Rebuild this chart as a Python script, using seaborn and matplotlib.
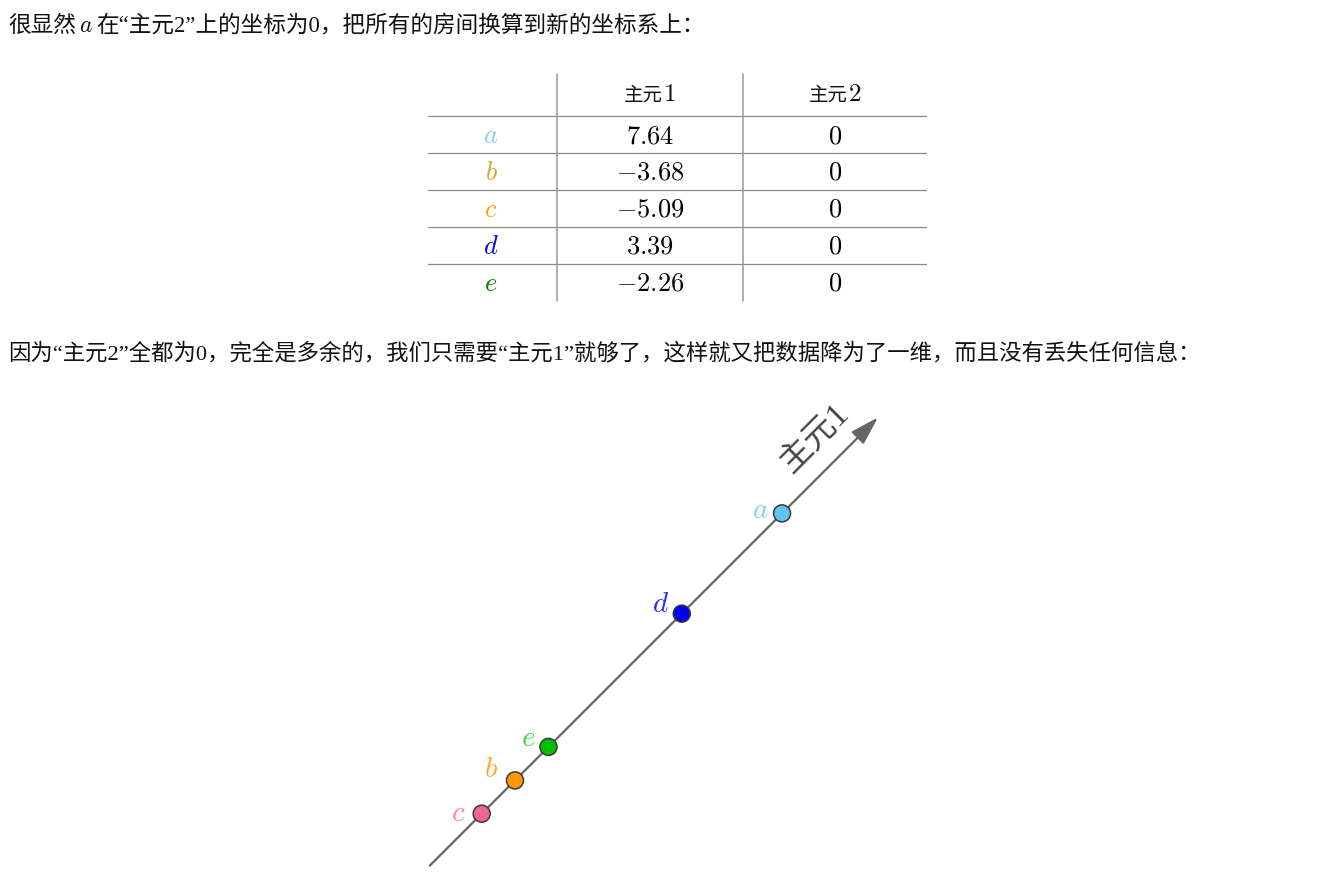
import numpy as np
import pandas as pd
import matplotlib
matplotlib.use("Agg")
import matplotlib.pyplot as plt
import seaborn as sns

# ---------------- data ----------------
labels = ["a", "b", "c", "d", "e"]
pc1 = [7.64, -3.68, -5.09, 3.39, -2.26]
pc2 = [0, 0, 0, 0, 0]
headers = ["主元1", "主元2"]
line1 = ["很显然", "$a$", "在“主元2”上的坐标为0，把所有的房间换算到新的坐标系上："]
line3 = "因为“主元2”全都为0，完全是多余的，我们只需要“主元1”就够了，这样就又把数据降为了一维，而且没有丢失任何信息："
axis_label = "主元1"

# ---------------- styles ----------------
table_label_colors = {"a": "#87CEEB", "b": "#DAA520", "c": "#FFA500", "d": "#0000FF", "e": "#008000"}
point_colors = {"a": "#5ec4f0", "b": "#ff9800", "c": "#f06595", "d": "#0000f0", "e": "#00bf00"}
diag_label_colors = {"a": "#7fd0f8", "b": "#ffa726", "c": "#ff80ab", "d": "#2929ff", "e": "#3fd43f"}
label_offsets = {"a": (-22, 3), "b": (-24, 11), "c": (-23, 1), "d": (-21, 10), "e": (-20, 9)}

sns.set_style("white")
plt.rcParams["font.family"] = ["Liberation Serif", "Noto Sans CJK SC"]
plt.rcParams["mathtext.fontset"] = "cm"

W, H = 1326, 879
fig = plt.figure(figsize=(W / 100, H / 100), dpi=100)
page = fig.add_axes([0, 0, 1, 1])
page.set_xlim(0, W)
page.set_ylim(H, 0)
page.axis("off")
renderer = fig.canvas.get_renderer()


def pieces(x, y, items, ha="left"):
    cur = x
    made = []
    for s, kw in items:
        t = page.text(cur, y, s, va="baseline", ha="left", **kw)
        cur += t.get_window_extent(renderer).width
        made.append(t)
    if ha == "center":
        shift = (cur - x) / 2
        for t in made:
            px, py = t.get_position()
            t.set_position((px - shift, py))
    return made


txt_kw = dict(fontsize=16.3, color="#111111")
# line 1
t1 = page.text(8, 32, line1[0], va="baseline", **txt_kw)
x = 8 + t1.get_window_extent(renderer).width + 3
t2 = page.text(x, 32, line1[1], va="baseline", fontsize=17, color="#111111")
x += t2.get_window_extent(renderer).width + 3
page.text(x, 32, line1[2], va="baseline", **txt_kw)

# line 3
page.text(8, 359, line3, va="baseline", fontsize=16.1, color="#111111")

# ---------------- table ----------------
col_x = [491, 650, 835]
row_h = 37
top_line = 116.5
for i in range(len(labels)):
    yl = top_line + i * row_h
    page.plot([428, 926], [yl, yl], color="#8a8a8a", lw=0.9)
for vx in (557.3, 742.7):
    page.plot([vx, vx], [75, 302], color="#9a9a9a", lw=1.1)

for j, h in enumerate(headers):
    pieces(col_x[j + 1], 101, [(h[:-1], dict(fontsize=14, color="#111111",
                                              family=["Noto Sans CJK SC"])),
                                (f"${h[-1]}$", dict(fontsize=18, color="#111111"))], ha="center")

for i, lab in enumerate(labels):
    base = top_line + i * row_h + row_h / 2 + 8
    page.text(col_x[0], base, f"${lab}$", ha="center", va="baseline", fontsize=19,
              color=table_label_colors[lab])
    page.text(col_x[1], base, f"${pc1[i]:.2f}$", ha="center", va="baseline", fontsize=19,
              color="#000000")
    page.text(col_x[2], base, f"${pc2[i]:g}$", ha="center", va="baseline", fontsize=19,
              color="#000000")

# ---------------- diagram ----------------
K = 23.59 * np.sqrt(2)          # pixels per unit along the axis
ox, oy = 601.8, 694.6           # pixel position of value 0
ax = fig.add_axes([420 / W, 0, 480 / W, 489 / H])
ax.set_xlim((420 - ox) / K, (900 - ox) / K)
ax.set_ylim((oy - 879) / K, (oy - 390) / K)
ax.axis("off")
ax.patch.set_alpha(0)

c = np.cos(np.pi / 4)
v = np.array(pc1)
df = pd.DataFrame({"label": labels, "x": v * c, "y": v * c})

lo = v.min() - 2.2
hi = v.max() + 4.07
ax.annotate("", xy=(hi * c, hi * c), xytext=(lo * c, lo * c),
            arrowprops=dict(arrowstyle="-|>,head_length=1.1,head_width=0.33",
                            mutation_scale=16, color="#666666", lw=1.6,
                            shrinkA=0, shrinkB=0), zorder=1)

sns.scatterplot(data=df, x="x", y="y", hue="label", palette=point_colors, s=150,
                edgecolor="#3a3a3a", linewidth=1.1, legend=False, ax=ax, zorder=3)

for lab, xv, yv in zip(df["label"], df["x"], df["y"]):
    ax.annotate(f"${lab}$", xy=(xv, yv), xytext=label_offsets[lab],
                textcoords="offset pixels", ha="center", va="center",
                fontsize=21, color=diag_label_colors[lab])

lv = v.max() + 2.3
ax.annotate(axis_label, xy=(lv * c, lv * c), xytext=(-21, 21), textcoords="offset pixels",
            rotation=45, rotation_mode="anchor", ha="center", va="center",
            fontsize=24, color="#444444",
            family=["Liberation Serif", "Noto Sans CJK SC"])

fig.savefig("out.png", dpi=100)
